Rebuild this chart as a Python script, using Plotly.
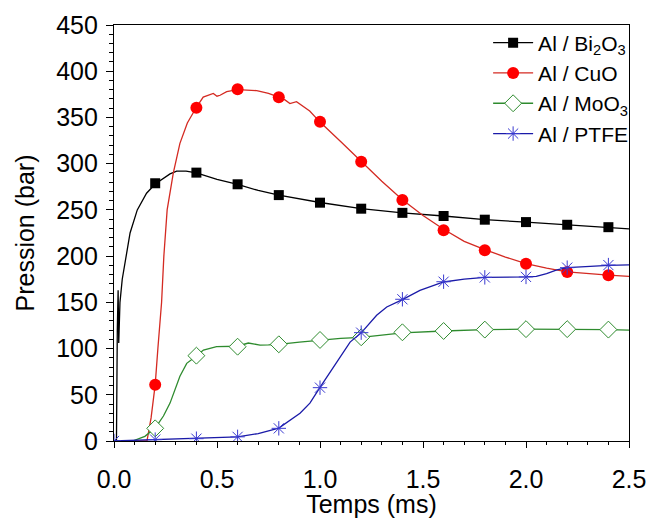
import plotly.graph_objects as go

# ---- data ----
bi_t = [0, 0.012, 0.016, 0.020, 0.023, 0.026, 0.029, 0.04, 0.057, 0.078, 0.113, 0.158, 0.2, 0.24,
        0.272, 0.304, 0.35, 0.4, 0.5, 0.6, 0.7, 0.8, 0.9, 1.0, 1.2, 1.4, 1.6, 1.8, 2.0, 2.2, 2.4, 2.5]
bi_p = [0, 0, 120, 163, 106, 140, 150, 175, 199, 225, 250, 268, 278, 284,
        289, 292, 292, 290, 283, 277.5, 271, 266, 262, 258, 251.3, 246.8, 243.4, 239.4, 236.8, 233.9, 231.3, 229.5]

cu_t = [0, 0.16, 0.18, 0.2, 0.213, 0.231, 0.242, 0.258, 0.288, 0.32, 0.356, 0.4, 0.433, 0.46, 0.482,
        0.50, 0.515, 0.547, 0.6, 0.693, 0.75, 0.8, 0.83, 0.854, 0.886, 0.95, 1.0, 1.1, 1.2, 1.3, 1.4,
        1.5, 1.6, 1.7, 1.8, 1.9, 2.0, 2.1, 2.2, 2.3, 2.4, 2.5]
cu_p = [0, 0, 25, 61, 100, 150, 200, 250, 290, 322, 344, 361, 372, 374, 376,
        373, 374, 378, 380, 379, 376, 372, 369, 365, 367, 357, 345, 324, 302, 281, 261,
        244, 229, 216, 207, 199, 192, 187, 183, 181, 179.5, 178]

mo_t = [0, 0.09, 0.15, 0.2, 0.24, 0.272, 0.32, 0.353, 0.4, 0.434, 0.498, 0.6, 0.652, 0.709, 0.75,
        0.8, 0.9, 1.0, 1.1, 1.2, 1.4, 1.6, 1.8, 2.0, 2.2, 2.4, 2.5]
mo_p = [0, 0, 5, 14, 27, 41, 70, 84, 92, 98.4, 102, 102.5, 106, 103.8, 104,
        104.6, 107, 109.3, 111, 112.2, 117, 119, 120.5, 121, 121, 120.5, 120]

pt_t = [0, 0.2, 0.4, 0.5, 0.6, 0.7, 0.8, 0.903, 0.951, 1.0, 1.097, 1.146, 1.2, 1.275, 1.324, 1.4,
        1.485, 1.6, 1.7, 1.8, 2.0, 2.05, 2.1, 2.15, 2.2, 2.3, 2.4, 2.5]
pt_p = [0, 1.5, 2.5, 3, 4.5, 8, 14, 30, 41, 58, 91, 107, 117, 136, 145, 153,
        163, 172, 175, 177, 177.5, 178, 181, 185, 187.5, 189, 190, 190.5]

# marker positions (every 0.2 ms)
mk_t = [0.2, 0.4, 0.6, 0.8, 1.0, 1.2, 1.4, 1.6, 1.8, 2.0, 2.2, 2.4]
bi_m = [278.8, 290.3, 277.7, 266, 257.8, 251.3, 246.8, 243.4, 239.4, 236.8, 233.9, 231.3]
cu_m = [60.9, 360.6, 380.4, 371.8, 345.4, 302, 260.7, 228, 206.4, 191.8, 182.9, 179.3]
mo_m = [13.7, 92.3, 102, 104.6, 109.3, 112.2, 117.6, 119, 120.5, 121, 121, 120.5]
pt_mk_t = [0.0] + mk_t
pt_m = [0, 1.5, 2.5, 4.5, 13.7, 57.7, 117.2, 153.3, 172.3, 177, 177.5, 187.5, 190.3]

names = ["Al / Bi<sub>2</sub>O<sub>3</sub>", "Al / CuO", "Al / MoO<sub>3</sub>", "Al / PTFE"]

FONT = "Liberation Sans, Arial, sans-serif"

fig = go.Figure()

series = [
    (bi_t, bi_p, mk_t, bi_m, "#000000", dict(symbol="square", size=10, color="#000000")),
    (cu_t, cu_p, mk_t, cu_m, "#d42a22", dict(symbol="circle", size=12, color="#ff0000")),
    (mo_t, mo_p, mk_t, mo_m, "#2e8b2e", dict(symbol="diamond", size=13, color="white",
                                              line=dict(color="#2e8b2e", width=1))),
    (pt_t, pt_p, pt_mk_t, pt_m, "#1a1aa8", dict(symbol="asterisk-open", size=12, color="#3a3ad0",
                                                line=dict(color="#3a3ad0", width=1))),
]

for i, (t, p, mt, mp, lc, mk) in enumerate(series):
    fig.add_trace(go.Scatter(x=t, y=p, mode="lines", line=dict(color=lc, width=1.3),
                             showlegend=False, hoverinfo="skip"))
    fig.add_trace(go.Scatter(x=mt, y=mp, mode="markers", marker=mk, showlegend=False))
    fig.add_trace(go.Scatter(x=[None], y=[None], mode="lines+markers", name=names[i],
                             line=dict(color=lc, width=1.3), marker=mk))

fig.update_layout(
    width=648, height=518,
    margin=dict(l=114, r=19, t=25, b=77),
    paper_bgcolor="white", plot_bgcolor="white",
    font=dict(family=FONT, color="black"),
    legend=dict(x=1.008, y=1.006, xanchor="right", yanchor="top", bgcolor="rgba(0,0,0,0)",
                font=dict(size=21, family=FONT), tracegroupgap=0, itemwidth=40),
    xaxis=dict(range=[0, 2.5], dtick=0.5, tickformat=".1f", showgrid=False, zeroline=False,
               automargin=False,
               showline=True, linecolor="black", linewidth=1.3, mirror=True,
               ticks="outside", ticklen=6, tickcolor="black", ticklabelstandoff=10,
               minor=dict(dtick=0.1, ticks="outside", ticklen=3, tickcolor="black"),
               tickfont=dict(size=25), title=dict(text="Temps (ms)", font=dict(size=25), standoff=13)),
    yaxis=dict(range=[0, 450], dtick=50, showgrid=False, zeroline=False,
               automargin=False,
               showline=True, linecolor="black", linewidth=1.3, mirror=True,
               ticks="outside", ticklen=7, tickcolor="black", ticklabelstandoff=3,
               minor=dict(dtick=10, ticks="outside", ticklen=4, tickcolor="black"),
               tickfont=dict(size=25), title=dict(text="Pression (bar)", font=dict(size=25), standoff=14)),
)

fig.write_html("out.html", config={"displayModeBar": False},
               post_script="document.body.style.margin='0';document.body.style.overflow='hidden';")
